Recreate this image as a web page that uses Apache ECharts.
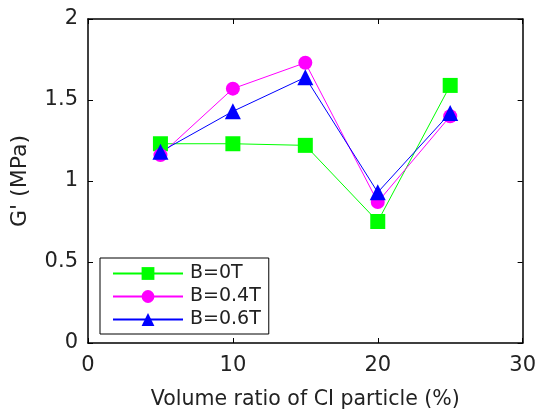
<!DOCTYPE html>
<html>
<head>
<meta charset="utf-8">
<script src="https://cdn.jsdelivr.net/npm/echarts@6/dist/echarts.min.js"></script>
<style>
  html, body { margin: 0; padding: 0; background: #fff; }
  #chart { width: 539px; height: 415px; }
</style>
</head>
<body>
<div id="chart"></div>
<script>
// volume ratio of CI particle (%)
const volumeRatio = [5, 10, 15, 20, 25];
// G' (MPa) at each field strength
const gB0 = [1.23, 1.23, 1.22, 0.75, 1.59];
const gB04 = [1.16, 1.57, 1.73, 0.87, 1.40];
const gB06 = [1.18, 1.43, 1.64, 0.93, 1.42];
const seriesNames = ["B=0T", "B=0.4T", "B=0.6T"];

const font = "DejaVu Sans, sans-serif";
const txt = "#222";

function pairs(ys) {
  return volumeRatio.map((x, i) => [x, ys[i]]);
}

function lineSeries(name, ys, color, symbol, size) {
  return {
    name: name,
    type: "line",
    data: pairs(ys),
    symbol: symbol,
    symbolSize: size,
    color: color,
    lineStyle: { color: color, width: 1 },
    itemStyle: { color: color },
    animation: false,
  };
}

const frameLine = { show: true, onZero: false, lineStyle: { color: "#000", width: 1.5 } };
const tick = { show: true, inside: true, length: 5, lineStyle: { color: "#000" } };

const chart = echarts.init(document.getElementById("chart"));

chart.setOption({
  backgroundColor: "#fff",
  grid: { left: 88, top: 19, width: 440, height: 330 },
  xAxis: [
    {
      type: "value",
      min: 0, max: 30, interval: 10,
      name: "Volume ratio of CI particle (%)",
      nameLocation: "middle",
      nameGap: 46,
      nameTextStyle: { fontFamily: font, fontSize: 20.5, color: txt },
      axisLine: frameLine,
      axisTick: tick,
      axisLabel: { fontFamily: font, fontSize: 21, color: txt, margin: 12 },
      splitLine: { show: false },
    },
    {
      type: "value", position: "top",
      min: 0, max: 30, interval: 10,
      axisLine: frameLine,
      axisTick: tick,
      axisLabel: { show: false },
      splitLine: { show: false },
    },
  ],
  yAxis: [
    {
      type: "value",
      min: 0, max: 2, interval: 0.5,
      name: "G' (MPa)",
      nameLocation: "middle",
      nameGap: 57,
      nameTextStyle: { fontFamily: font, fontSize: 22, color: txt },
      axisLine: frameLine,
      axisTick: tick,
      axisLabel: { fontFamily: font, fontSize: 21, color: txt, margin: 10 },
      splitLine: { show: false },
    },
    {
      type: "value", position: "right",
      min: 0, max: 2, interval: 0.5,
      axisLine: frameLine,
      axisTick: tick,
      axisLabel: { show: false },
      splitLine: { show: false },
    },
  ],
  legend: {
    left: 100,
    top: 258,
    orient: "vertical",
    data: seriesNames,
    backgroundColor: "#fff",
    borderColor: "#000",
    borderWidth: 1,
    borderRadius: 0,
    padding: [6, 8, 5, 12],
    itemGap: 4,
    itemWidth: 70,
    itemHeight: 16,
    textStyle: { fontFamily: font, fontSize: 19, color: txt, padding: [0, 0, 0, 2] },
  },
  series: [
    lineSeries(seriesNames[0], gB0, "#00ff00", "rect", 15),
    lineSeries(seriesNames[1], gB04, "#ff00ff", "circle", 14),
    lineSeries(seriesNames[2], gB06, "#0000ff", "triangle", 16),
  ],
});

window.addEventListener("resize", () => {
  if (chart) {
    chart.resize();
  }
});
</script>
</body>
</html>
